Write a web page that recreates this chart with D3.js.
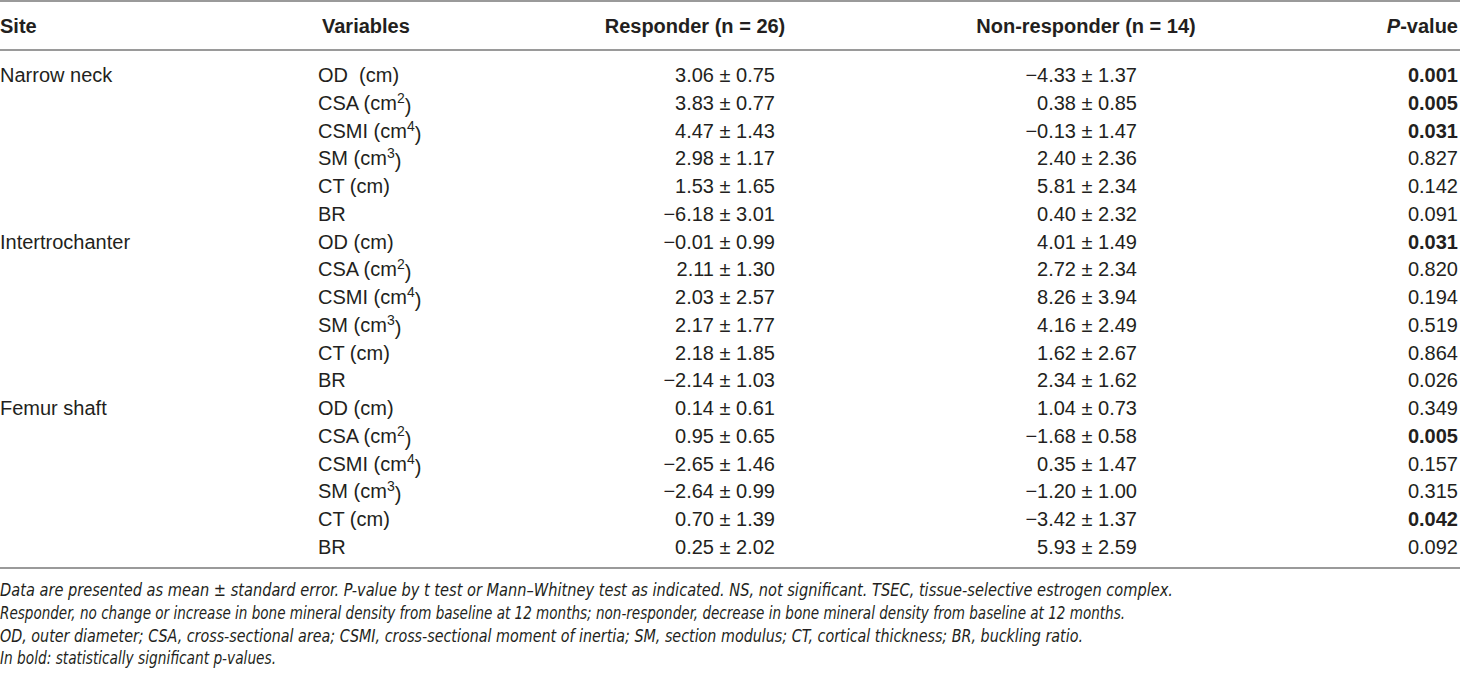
<!DOCTYPE html>
<html lang="en">
<head>
<meta charset="utf-8" />
<title>Hip structure analysis · responder vs non-responder</title>
<style>
html,body{margin:0;height:100%;background:#fff}
#table{width:1460px;height:676px}
text{font-family:"Liberation Sans",Arial,Helvetica,sans-serif;fill:#231f20}
.head{font-weight:bold;font-size:20px}
.cell{font-size:20px}
.note{font-family:"Liberation Sans Narrow","DejaVu Sans Condensed","Liberation Sans",sans-serif;font-style:italic;font-size:18px}
.rule{stroke:#9a9a9a;stroke-width:2}
</style>
<script src="https://cdn.jsdelivr.net/npm/d3@7/dist/d3.min.js"></script>
</head>
<body>
<div id="table"></div>

<script>
/* ----------------------------- data ----------------------------------- */
const sites     = ["Narrow neck", "Intertrochanter", "Femur shaft"];
// [label, superscript]
const variables = [
  ["OD  (cm)", ""], ["CSA (cm", "2"], ["CSMI (cm", "4"], ["SM (cm", "3"], ["CT (cm)", ""], ["BR", ""],
  ["OD (cm)", ""],  ["CSA (cm", "2"], ["CSMI (cm", "4"], ["SM (cm", "3"], ["CT (cm)", ""], ["BR", ""],
  ["OD (cm)", ""],  ["CSA (cm", "2"], ["CSMI (cm", "4"], ["SM (cm", "3"], ["CT (cm)", ""], ["BR", ""]
];
const headers   = ["Site", "Variables", "Responder (n = 26)", "Non-responder (n = 14)", "P-value"];

const respMean  = [ 3.06, 3.83, 4.47, 2.98, 1.53, -6.18,
                   -0.01, 2.11, 2.03, 2.17, 2.18, -2.14,
                    0.14, 0.95, -2.65, -2.64, 0.70, 0.25];
const respSE    = [0.75, 0.77, 1.43, 1.17, 1.65, 3.01,
                   0.99, 1.30, 2.57, 1.77, 1.85, 1.03,
                   0.61, 0.65, 1.46, 0.99, 1.39, 2.02];
const nonMean   = [-4.33, 0.38, -0.13, 2.40, 5.81, 0.40,
                    4.01, 2.72, 8.26, 4.16, 1.62, 2.34,
                    1.04, -1.68, 0.35, -1.20, -3.42, 5.93];
const nonSE     = [1.37, 0.85, 1.47, 2.36, 2.34, 2.32,
                   1.49, 2.34, 3.94, 2.49, 2.67, 1.62,
                   0.73, 0.58, 1.47, 1.00, 1.37, 2.59];
const pValues   = ["0.001", "0.005", "0.031", "0.827", "0.142", "0.091",
                   "0.031", "0.820", "0.194", "0.519", "0.864", "0.026",
                   "0.349", "0.005", "0.157", "0.315", "0.042", "0.092"];
const bold      = [1,1,1,0,0,0, 1,0,0,0,0,0, 0,1,0,0,1,0];

const notes = [
  "Data are presented as mean ± standard error. P-value by t test or Mann–Whitney test as indicated. NS, not significant. TSEC, tissue-selective estrogen complex.",
  "Responder, no change or increase in bone mineral density from baseline at 12 months; non-responder, decrease in bone mineral density from baseline at 12 months.",
  "OD, outer diameter; CSA, cross-sectional area; CSMI, cross-sectional moment of inertia; SM, section modulus; CT, cortical thickness; BR, buckling ratio.",
  "In bold: statistically significant p-values."
];

/* ---------------------------- layout ---------------------------------- */
const W = 1460, H = 676;
const colX   = {site: 0, vars: 318, resp: 775, non: 1137, p: 1458};
const noteW  = [1173, 1125, 1083, 276];

const svg = d3.select("#table").append("svg")
              .attr("width", W).attr("height", H)
              .attr("viewBox", [0, 0, W, H]);

const rows = d3.range(respMean.length);
const y = d3.scalePoint().domain(rows).range([75, 547]);
const yNote = d3.scalePoint().domain(d3.range(notes.length)).range([590, 658]);

const fmt = v => (v < 0 ? "\u2212" : "") + d3.format(".2f")(Math.abs(v));

/* rules */
svg.selectAll("line.rule").data([1, 50, 568]).join("line")
   .attr("class", "rule")
   .attr("x1", 0).attr("x2", W)
   .attr("y1", d => d).attr("y2", d => d);

/* header */
const headPos = [
  {x: colX.site, a: "start"}, {x: 322, a: "start"},
  {x: 695, a: "middle"}, {x: 1086, a: "middle"}, {x: colX.p, a: "end"}
];
const head = svg.append("g").selectAll("text").data(headers).join("text")
   .attr("class", "head")
   .attr("x", (d, i) => headPos[i].x)
   .attr("y", 26)
   .attr("dy", "0.35em")
   .attr("text-anchor", (d, i) => headPos[i].a);
head.filter((d, i) => i === 4).text(null)
   .call(t => { t.append("tspan").attr("font-style", "italic").text("P");
                t.append("tspan").text("-value"); });
head.filter((d, i) => i !== 4).text(d => d);

/* body */
const body = svg.append("g");

body.selectAll("text.site").data(sites).join("text")
    .attr("class", "cell site")
    .attr("x", colX.site)
    .attr("y", (d, i) => y(i * 6))
    .attr("dy", "0.35em")
    .text(d => d);

const varText = body.selectAll("text.var").data(rows).join("text")
    .attr("class", "cell var")
    .attr("x", colX.vars)
    .attr("y", d => y(d))
    .attr("dy", "0.35em")
    .style("white-space", "pre");
varText.append("tspan").text(d => variables[d][0]);
varText.filter(d => variables[d][1]).each(function(d) {
  const t = d3.select(this);
  t.append("tspan").attr("dy", "-0.5em").attr("font-size", "14px").text(variables[d][1]);
  t.append("tspan").attr("dy", "0.5em").text(")");
});

body.selectAll("text.resp").data(rows).join("text")
    .attr("class", "cell resp")
    .attr("x", colX.resp).attr("text-anchor", "end")
    .attr("y", d => y(d)).attr("dy", "0.35em")
    .text(d => `${fmt(respMean[d])} ± ${d3.format(".2f")(respSE[d])}`);

body.selectAll("text.non").data(rows).join("text")
    .attr("class", "cell non")
    .attr("x", colX.non).attr("text-anchor", "end")
    .attr("y", d => y(d)).attr("dy", "0.35em")
    .text(d => `${fmt(nonMean[d])} ± ${d3.format(".2f")(nonSE[d])}`);

body.selectAll("text.pv").data(rows).join("text")
    .attr("class", "cell pv")
    .attr("x", colX.p).attr("text-anchor", "end")
    .attr("y", d => y(d)).attr("dy", "0.35em")
    .attr("font-weight", d => bold[d] ? "bold" : null)
    .text(d => pValues[d]);

/* footnotes */
svg.append("g").selectAll("text").data(notes).join("text")
   .attr("class", "note")
   .attr("x", 0)
   .attr("y", (d, i) => yNote(i))
   .attr("dy", "0.35em")
   .attr("textLength", (d, i) => noteW[i])
   .attr("lengthAdjust", "spacingAndGlyphs")
   .text(d => d);
</script>
</body>
</html>
